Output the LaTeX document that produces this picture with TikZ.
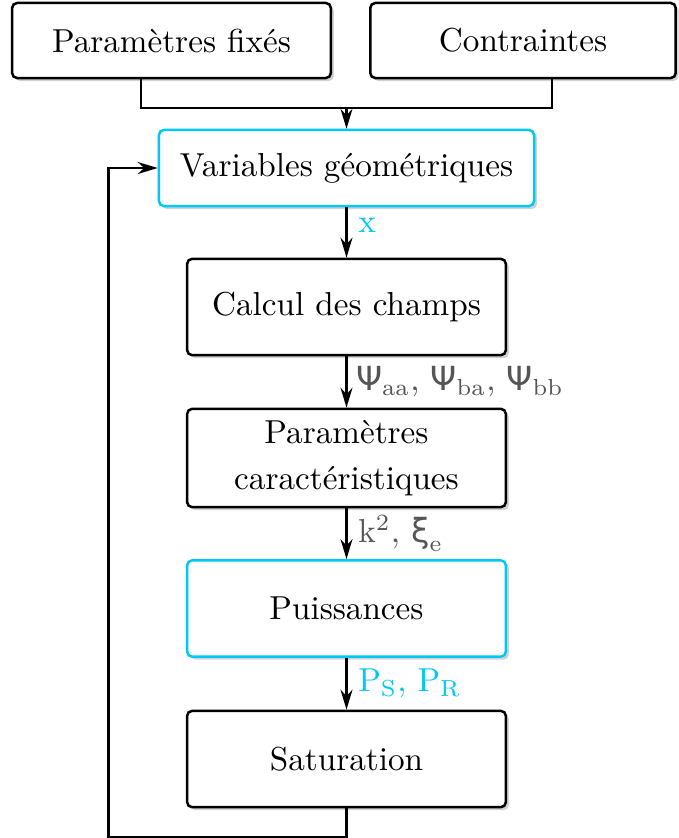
\documentclass[tikz,border=0pt]{standalone}
\usepackage{fontspec}
\newfontfamily\greekfont{DejaVu Sans}
\usetikzlibrary{arrows.meta,shadows}
\definecolor{skyblue}{RGB}{0,200,245}
\definecolor{labelgray}{HTML}{555555}
\tikzset{
	% ------- every something
	every path/.style={
		line width=0.75pt,
	},
	every node/.style={
		font=\normalsize,
	},
	% ------- custom
	block/.style={
		draw,
		fill=white,
		rounded corners=1.5pt,
		line width=0.75pt,
		align=center,
		minimum width=96pt,
		minimum height=29pt,
		drop shadow={shadow xshift=0.9pt, shadow yshift=-0.9pt, fill=black!35},
	},
	highlight/.style={
		draw=skyblue,
	},
	flow/.style={
		-{Stealth[length=6pt, width=3.6pt]},
	},
	signal/.style={
		right,
		inner sep=3.2pt,
		labelgray,
	},
}

\begin{document}
\begin{tikzpicture}[x=0.3012pt, y=-0.3012pt]

	\useasboundingbox (0,0) rectangle (678,838);

% blocks %{{{1

	\node[block, minimum width=96pt, minimum height=22.6pt] (fixes) at (171.5,40.5) {Paramètres fixés};
	\node[block, minimum width=92pt, minimum height=22.6pt] (contr) at (523,40.5) {Contraintes};
	\node[block, highlight, minimum width=113pt, minimum height=22.9pt] (geom) at (346.5,168) {Variables géométriques};
	\node[block] (champs) at (346.5,307) {Calcul des champs};
	\node[block] (carac) at (346.5,458) {Paramètres\\[2pt]caractéristiques};
	\node[block, highlight] (puiss) at (346.5,608.5) {Puissances};
	\node[block] (satur) at (346.5,759) {Saturation};

% inputs %{{{1

	\coordinate (join) at (346.5,108);
	\draw ([xshift=-9.2pt]fixes.south) |- (join) -| ([xshift=8.7pt]contr.south);
	\draw[flow] (join) -- (geom);

% chain %{{{1

	\draw[flow] (geom) -- node[signal, skyblue, pos=0.35] {$\mathrm{x}$} (champs);
	\draw[flow] (champs) -- node[signal, inner sep=2.5pt] {$\mbox{\greekfont Ψ}_{\mathrm{aa}}$, $\mbox{\greekfont Ψ}_{\mathrm{ba}}$, $\mbox{\greekfont Ψ}_{\mathrm{bb}}$} (carac);
	\draw[flow] (carac) -- node[signal] {$\mathrm{k}^{2}$, $\mbox{\greekfont ξ}_{\mathrm{e}}$} (puiss);
	\draw[flow] (puiss) -- node[signal, skyblue] {$\mathrm{P}_{\mathrm{S}}$, $\mathrm{P}_{\mathrm{R}}$} (satur);

% feedback loop %{{{1

	\draw[flow] (satur.south) -- ++(0,29) -| ([xshift=-14.8pt]geom.west) -- (geom.west);

\end{tikzpicture}
\end{document}
